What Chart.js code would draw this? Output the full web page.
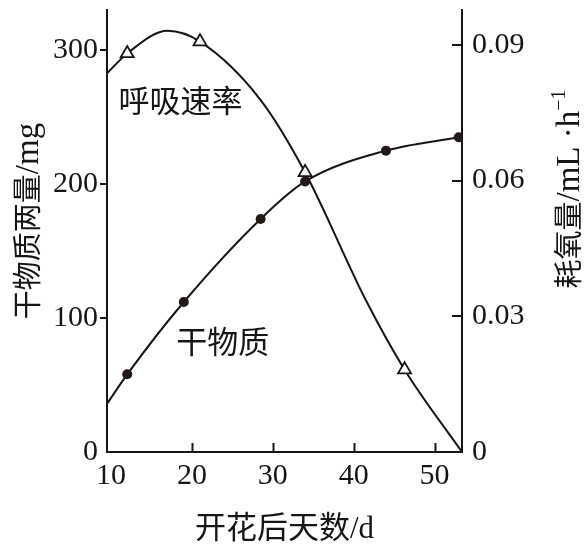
<!DOCTYPE html>
<html>
<head>
<meta charset="utf-8">
<script src="https://cdn.jsdelivr.net/npm/chart.js@4.4.0/dist/chart.umd.min.js"></script>
<style>
  html, body { margin: 0; padding: 0; background: #fff; }
  #wrap { width: 585px; height: 545px; }
</style>
</head>
<body>
<div id="wrap"><canvas id="c" width="585" height="545"></canvas></div>
<script>
// Axis ticks
const dayTicks = [10, 20, 30, 40, 50];
const massTicks = [0, 100, 200, 300];
const o2Ticks = [0, 0.03, 0.06, 0.09];

// Dry matter weight (mg), measured days after flowering
const massDays = [12, 19, 28.5, 34, 44, 53];
const massValues = [58, 112, 174, 202, 225, 235];
// Smoothed dry-matter curve, starting at the left edge of the plot
const massCurveDays = [9.5, 12, 19, 28.5, 34, 44, 53];
const massCurveValues = [36, 58, 112, 174, 202, 225, 235];

// Respiration rate (O2 consumption, mL·h-1), measured days
const o2Days = [12, 21, 34, 46.3];
const o2Values = [0.0881, 0.0907, 0.0618, 0.0182];
// Smoothed respiration curve
const o2CurveDays = [9.5, 12, 17, 21, 28.5, 34, 41.5, 46.3, 53.4];
const o2CurveValues = [0.0837, 0.0881, 0.0931, 0.0907, 0.0778, 0.0618, 0.0336, 0.0182, 0];

// In-plot curve names, anchored in data space (day, mg)
const curveNames = [
  { text: '呼吸速率', day: 18.6, mass: 263 },
  { text: '干物质', day: 23.8, mass: 83 }
];

const INK = '#161616';
const CJK = '"Noto Sans CJK SC", "Noto Sans", sans-serif';
const SERIF = '"Liberation Serif", "DejaVu Serif", serif';

const pairs = (xs, ys) => xs.map((x, i) => ({ x, y: ys[i] }));
const fixTicks = (vals) => (scale) => { scale.ticks = vals.map(v => ({ value: v })); };
// Fixed scale thickness, no extra label padding around the plot area
const fitTo = (prop, size) => (s) => {
  s[prop] = size;
  s.paddingTop = 0; s.paddingBottom = 0; s.paddingLeft = 0; s.paddingRight = 0;
};

// Draw a run of text pieces centred at (cx, cy), optionally rotated
function drawRuns(ctx, runs, cx, cy, angle, baseOffset) {
  ctx.save();
  ctx.translate(cx, cy);
  ctx.rotate(angle);
  ctx.textBaseline = 'alphabetic';
  ctx.textAlign = 'left';
  ctx.fillStyle = INK;
  let total = 0;
  runs.forEach(r => { ctx.font = r.font; r.w = ctx.measureText(r.text).width; total += r.w; });
  let x = -total / 2;
  runs.forEach(r => {
    ctx.font = r.font;
    ctx.fillText(r.text, x, baseOffset + (r.dy || 0));
    x += r.w;
  });
  ctx.restore();
}

const framePlugin = {
  id: 'frame',
  afterDraw(chart) {
    const { ctx, chartArea: a, scales } = chart;
    const sx = scales.x, sy = scales.y, sy1 = scales.y1;
    ctx.save();
    ctx.strokeStyle = INK;
    ctx.lineWidth = 2;
    ctx.beginPath();
    // bottom axis ticks point inward
    dayTicks.slice(1).forEach(v => {
      const px = Math.round(sx.getPixelForValue(v)) + 0.5;
      ctx.moveTo(px, a.bottom); ctx.lineTo(px, a.bottom - 9);
    });
    // left axis ticks point outward
    massTicks.slice(1).forEach(v => {
      const py = Math.round(sy.getPixelForValue(v));
      ctx.moveTo(a.left - 7, py); ctx.lineTo(a.left, py);
    });
    // right axis ticks point inward
    o2Ticks.slice(1).forEach(v => {
      const py = Math.round(sy1.getPixelForValue(v));
      ctx.moveTo(a.right - 10, py); ctx.lineTo(a.right, py);
    });
    ctx.stroke();
    ctx.restore();

    // curve names
    ctx.save();
    ctx.fillStyle = INK;
    ctx.font = '31px ' + CJK;
    ctx.textAlign = 'center';
    ctx.textBaseline = 'middle';
    curveNames.forEach(n => {
      ctx.fillText(n.text, sx.getPixelForValue(n.day), sy.getPixelForValue(n.mass));
    });
    ctx.restore();

    // axis titles
    const cx = (a.left + a.right) / 2;
    drawRuns(ctx, [
      { text: '开花后天数', font: '31px ' + CJK },
      { text: '/d', font: '31px ' + SERIF }
    ], cx, 527, 0, 11);
    drawRuns(ctx, [
      { text: '干物质两量', font: '29px ' + CJK },
      { text: '/mg', font: '33px ' + SERIF }
    ], 27, 221, -Math.PI / 2, 10.5);
    drawRuns(ctx, [
      { text: '耗氧量', font: '29px ' + CJK },
      { text: '/mL ·h', font: '33px ' + SERIF },
      { text: '−1', font: '20px ' + SERIF, dy: -14 }
    ], 568, 189, -Math.PI / 2, 10.5);
  }
};

new Chart(document.getElementById('c'), {
  data: {
    datasets: [
      {
        type: 'scatter', data: pairs(massDays, massValues), yAxisID: 'y',
        pointStyle: 'circle', pointRadius: 5, pointBackgroundColor: '#231815',
        pointBorderWidth: 0, showLine: false
      },
      {
        type: 'scatter', data: pairs(o2Days, o2Values), yAxisID: 'y1',
        pointStyle: 'triangle', pointRadius: 7.5, pointBackgroundColor: '#fff',
        pointBorderColor: INK, pointBorderWidth: 1.8, showLine: false
      },
      {
        type: 'line', data: pairs(massCurveDays, massCurveValues), yAxisID: 'y',
        borderColor: INK, borderWidth: 2, pointRadius: 0, fill: false,
        cubicInterpolationMode: 'monotone'
      },
      {
        type: 'line', data: pairs(o2CurveDays, o2CurveValues), yAxisID: 'y1',
        borderColor: INK, borderWidth: 2, pointRadius: 0, fill: false,
        cubicInterpolationMode: 'monotone'
      }
    ]
  },
  options: {
    responsive: false,
    animation: false,
    devicePixelRatio: 1,
    layout: { padding: { top: 10, left: 0, right: 0, bottom: 0 } },
    plugins: { legend: { display: false }, tooltip: { enabled: false } },
    scales: {
      x: {
        type: 'linear', min: 9.5, max: 53.4,
        afterBuildTicks: fixTicks(dayTicks),
        afterFit: fitTo('height', 93),
        grid: { display: false, drawTicks: false },
        border: { display: true, color: INK, width: 2 },
        ticks: { color: INK, padding: 6, font: { family: SERIF, size: 30 } }
      },
      y: {
        type: 'linear', position: 'left', min: 0, max: 330,
        afterBuildTicks: fixTicks(massTicks),
        afterFit: fitTo('width', 107),
        grid: { display: false, drawTicks: false },
        border: { display: true, color: INK, width: 2 },
        ticks: { color: INK, padding: 9, font: { family: SERIF, size: 30 } }
      },
      y1: {
        type: 'linear', position: 'right', min: 0, max: 0.0977,
        afterBuildTicks: fixTicks(o2Ticks),
        afterFit: fitTo('width', 123),
        grid: { display: false, drawTicks: false },
        border: { display: true, color: INK, width: 2 },
        ticks: {
          color: INK, padding: 10, font: { family: SERIF, size: 30 },
          callback: (v) => (v === 0 ? '0' : v.toFixed(2))
        }
      }
    }
  },
  plugins: [framePlugin]
});
</script>
</body>
</html>
